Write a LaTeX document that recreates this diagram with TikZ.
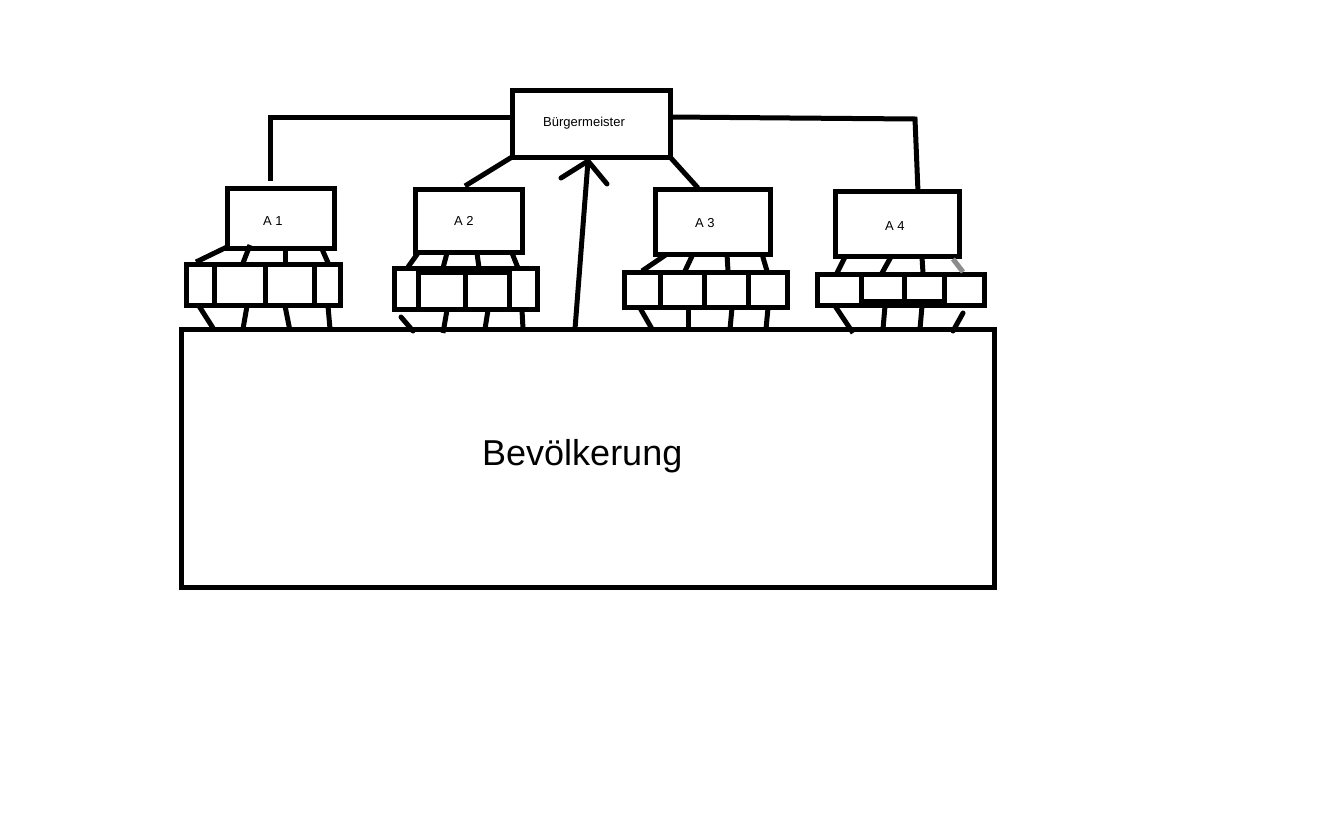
\documentclass[tikz,border=0pt]{standalone}
\usepackage{fontspec}
\setmainfont{Liberation Sans}
\tikzset{
  box/.style={draw=black, line width=5pt, inner sep=0pt, outer sep=0pt, fill=white},
  link/.style={draw=black, line width=5pt},
  greylink/.style={draw=black!45, line width=5pt},
  lbl/.style={inner sep=0pt, anchor=base west, font=\fontsize{13}{15}\selectfont},
  biglbl/.style={inner sep=0pt, anchor=base west, font=\fontsize{36}{40}\selectfont}
}
\newcommand{\boxnode}[5]{%
  \node[box, minimum width={(#4-#2)*1pt}, minimum height={(#5-#3)*1pt}] (#1) at ({(#2+#4)/2},{(#3+#5)/2}) {};}
\begin{document}
\begin{tikzpicture}[x=1pt,y=-1pt]
\useasboundingbox[fill=white] (0,0) rectangle (1320,827);

% Population
\boxnode{bev}{181}{329}{994}{587}
\node[biglbl] (bevt) at (482,465) {Bevölkerung};

% Mayor
\boxnode{bm}{512}{90}{670}{157}
\node[lbl] (bmt) at (543,126) {Bürgermeister};

% Offices
\boxnode{a1}{227}{188}{334}{248}
\boxnode{a2}{415}{189}{522}{252}
\boxnode{a3}{655}{189}{770}{254}
\boxnode{a4}{835}{191}{959}{256}
\node[lbl] (a1t) at (263,225) {A 1};
\node[lbl] (a2t) at (454,225) {A 2};
\node[lbl] (a3t) at (695,227) {A 3};
\node[lbl] (a4t) at (885,230) {A 4};

% Sub units A1
\boxnode{a1c1}{186}{264}{214}{305}
\boxnode{a1c2}{214}{264}{265}{305}
\boxnode{a1c3}{265}{264}{314}{305}
\boxnode{a1c4}{314}{264}{340}{305}
% Sub units A2
\boxnode{a2c1}{394}{268}{418}{309}
\boxnode{a2c2}{418}{268}{465}{309}
\boxnode{a2c3}{465}{268}{509}{309}
\boxnode{a2c4}{509}{268}{537}{309}
\draw[link] (a2c2.north west) ++(0,4) -- ([yshift=-4pt]a2c3.north east);
% Sub units A3
\boxnode{a3c1}{624}{272}{660}{307}
\boxnode{a3c2}{660}{272}{704}{307}
\boxnode{a3c3}{704}{272}{748}{307}
\boxnode{a3c4}{748}{272}{787}{307}
% Sub units A4
\boxnode{a4c1}{817}{274}{861}{305}
\boxnode{a4c2}{861}{274}{904}{305}
\boxnode{a4c3}{904}{274}{944}{305}
\boxnode{a4c4}{944}{274}{984}{305}
\draw[link] ([yshift=4pt]a4c2.south west) -- ([yshift=4pt]a4c3.south east);

% Mayor to offices
\draw[link] (bm.west |- 0,117) -- (270,117) -- (270,181);
\draw[link] (bm.south west) -- (465,186);
\draw[link] (bm.south east) -- (698,188);
\draw[link] (bm.east |- 0,117) -- (790,118) -- (915,119) -- (918,192);

% Arrow from population to mayor
\coordinate (tip) at (588,161);
\draw[link] (575,329) -- (tip);
\draw[link, line cap=round] (561,178) -- (tip) -- (607,184);

% Ticks A1
\draw[link] (227,247) -- (196,262);
\draw[link] (250,245) -- (243,263);
\draw[link] (285,249) -- (285,263);
\draw[link] (322,249) -- (329,265);
\draw[link] (199,306) -- (213,328);
\draw[link] (247,306) -- (243,329);
\draw[link] (285,306) -- (290,331);
\draw[link] (328,306) -- (330,329);
% Ticks A2
\draw[link] (418,253) -- (408,267);
\draw[link] (447,253) -- (443,268);
\draw[link] (477,253) -- (479,268);
\draw[link] (512,253) -- (518,268);
\draw[link, line cap=round] (401,317) -- (413,331);
\draw[link] (447,310) -- (443,333);
\draw[link] (488,310) -- (485,329);
\draw[link] (522,310) -- (523,329);
% Ticks A3
\draw[link] (667,254) -- (642,271);
\draw[link] (693,254) -- (685,271);
\draw[link] (727,254) -- (728,271);
\draw[link] (762,254) -- (767,271);
\draw[link] (640,308) -- (652,329);
\draw[link] (688,308) -- (688,329);
\draw[link] (732,308) -- (730,329);
\draw[link] (768,308) -- (766,329);
% Ticks A4
\draw[link] (845,257) -- (837,273);
\draw[link] (892,255) -- (882,273);
\draw[link] (922,257) -- (923,273);
\draw[greylink] (953,259) -- (963,272);
\draw[link] (835,306) -- (853,333);
\draw[link] (885,306) -- (883,329);
\draw[link] (922,306) -- (920,329);
\draw[link, line cap=round] (963,313) -- (953,331);
\end{tikzpicture}
\end{document}
